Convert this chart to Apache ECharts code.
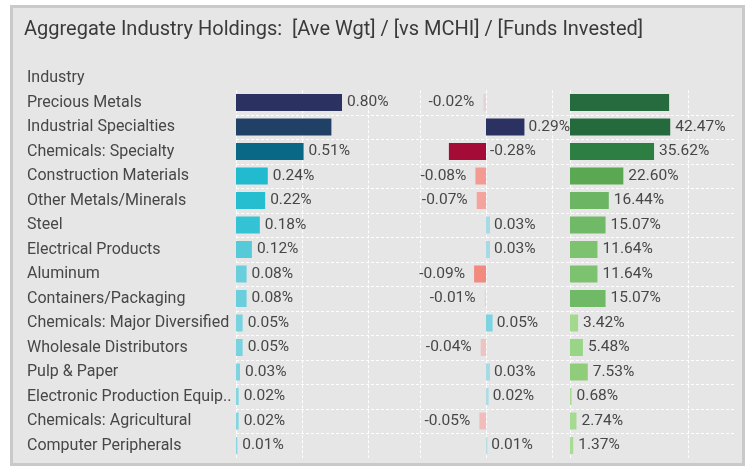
<!DOCTYPE html>
<html>
<head>
<meta charset="utf-8">
<script src="https://cdn.jsdelivr.net/npm/echarts@6/dist/echarts.min.js"></script>
<style>
  html, body { margin: 0; padding: 0; background: #ffffff; }
  #frame {
    position: absolute; left: 10px; top: 5px;
    width: 729px; height: 455px;
    border: 3px solid #c9c9c9; background: #e6e6e6;
  }
  #chart { position: absolute; left: 0; top: 0; width: 753px; height: 470px; }
</style>
</head>
<body>
<div id="frame"></div>
<div id="chart"></div>
<script>
// Industries, top to bottom
const industries = [
  'Precious Metals', 'Industrial Specialties', 'Chemicals: Specialty',
  'Construction Materials', 'Other Metals/Minerals', 'Steel',
  'Electrical Products', 'Aluminum', 'Containers/Packaging',
  'Chemicals: Major Diversified', 'Wholesale Distributors', 'Pulp & Paper',
  'Electronic Production Equip..', 'Chemicals: Agricultural', 'Computer Peripherals'
];

// Average portfolio weight (%)
const aveWgt = [0.80, 0.72, 0.51, 0.24, 0.22, 0.18, 0.12, 0.08, 0.08, 0.05, 0.05, 0.03, 0.02, 0.02, 0.01];
// Active weight versus MCHI (%)
const vsMchi = [-0.02, 0.29, -0.28, -0.08, -0.07, 0.03, 0.03, -0.09, -0.01, 0.05, -0.04, 0.03, 0.02, -0.05, 0.01];
// Share of funds invested in the industry (%)
const fundsInvested = [42.0, 42.47, 35.62, 22.60, 16.44, 15.07, 11.64, 11.64, 15.07, 3.42, 5.48, 7.53, 0.68, 2.74, 1.37];

// Rows whose value label is left out
const unlabeledAveWgt = [1];
const unlabeledFunds = [0];

// Colour ramps: [value, colour] stops, interpolated in RGB
const aveWgtRamp = [[0, '#8ad8e3'], [0.1, '#62cddb'], [0.2, '#28c0d3'], [0.3, '#18b0c6'],
                    [0.5, '#076a86'], [0.7, '#1e4468'], [0.8, '#2b3160']];
const vsMchiRamp = [[-0.28, '#a50b37'], [-0.09, '#f38a80'], [-0.08, '#f39b92'], [-0.07, '#f4a49c'],
                    [-0.05, '#f2bcba'], [-0.02, '#e6d3d6'], [0, '#d8d8de'], [0.01, '#b6dde5'],
                    [0.03, '#a6dae4'], [0.05, '#7dd4e0'], [0.29, '#2b3160']];
const fundsRamp = [[0, '#acdd98'], [3, '#a4da90'], [5.5, '#99d587'], [7.5, '#8fcd7a'],
                   [11.6, '#7cc26f'], [15, '#70b966'], [16.4, '#6bb563'], [22.6, '#5ba853'],
                   [35.6, '#2d7e43'], [42.5, '#246a3d']];

function hexToRgb(h) {
  const n = parseInt(h.slice(1), 16);
  return [(n >> 16) & 255, (n >> 8) & 255, n & 255];
}
function rampColor(stops, v) {
  if (v <= stops[0][0]) return stops[0][1];
  for (let i = 1; i < stops.length; i++) {
    if (v <= stops[i][0]) {
      const [v0, c0] = stops[i - 1], [v1, c1] = stops[i];
      const t = (v - v0) / (v1 - v0);
      const a = hexToRgb(c0), b = hexToRgb(c1);
      const m = a.map((x, k) => Math.round(x + (b[k] - x) * t));
      return 'rgb(' + m.join(',') + ')';
    }
  }
  return stops[stops.length - 1][1];
}

const FONT = 'Roboto, "Noto Sans", sans-serif';
const TEXT = '#474747';
const TOP = 90.25, HEIGHT = 367.5;

const gridLine = { show: true, lineStyle: { color: '#ffffff', type: [3, 2], width: 1 } };

function valueLabel(show, position, distance) {
  return {
    show, position, distance,
    color: TEXT, fontFamily: FONT, fontSize: 15.5,
    formatter: p => p.value[0].toFixed(2) + '%'
  };
}

function barSeries(values, gridIdx, ramp, labelFor) {
  return {
    type: 'bar',
    xAxisIndex: gridIdx, yAxisIndex: gridIdx,
    barWidth: 17,
    silent: true,
    data: values.map((v, i) => ({
      value: [v, industries[i]],
      itemStyle: { color: rampColor(ramp, v) },
      label: labelFor(v, i)
    }))
  };
}

function catAxis(gridIdx, showLabels, showSplit) {
  return {
    type: 'category', gridIndex: gridIdx, data: industries, inverse: true,
    axisLine: { show: false }, axisTick: { show: false },
    axisLabel: showLabels ? {
      show: true, align: 'left', margin: 209,
      color: TEXT, fontFamily: FONT, fontSize: 16
    } : { show: false },
    splitLine: showSplit
      ? Object.assign({ showMinLine: false, showMaxLine: false }, gridLine)
      : { show: false }
  };
}

function valAxis(gridIdx, min, max, interval, showMin) {
  return {
    type: 'value', gridIndex: gridIdx, min, max, interval,
    axisLine: { show: false }, axisTick: { show: false }, axisLabel: { show: false },
    splitLine: Object.assign({ showMinLine: showMin, showMaxLine: false }, gridLine)
  };
}

const chart = echarts.init(document.getElementById('chart'), null, { renderer: 'canvas' });

chart.setOption({
  backgroundColor: 'transparent',
  animation: false,
  title: [
    {
      text: 'Aggregate Industry Holdings:  [Ave Wgt] / [vs MCHI] / [Funds Invested]',
      left: 24, top: 20, padding: 0,
      textStyle: { color: '#3a3a3a', fontFamily: FONT, fontSize: 20, fontWeight: 'normal' }
    },
    {
      text: 'Industry',
      left: 27, top: 69.5, padding: 0,
      textStyle: { color: TEXT, fontFamily: FONT, fontSize: 16, fontWeight: 'normal' }
    }
  ],
  grid: [
    { left: 236, top: TOP, width: 1.3 * 132.5, height: HEIGHT },               // Ave Wgt
    { left: 486 - 0.5 * 132.5, top: TOP, width: 1.05 * 132.5, height: HEIGHT }, // vs MCHI
    { left: 570, top: TOP, width: 70 * 2.36, height: HEIGHT },                 // Funds Invested
    { left: 236, top: TOP, width: 499, height: HEIGHT }                        // row separators
  ],
  xAxis: [
    valAxis(0, 0, 1.3, 0.5, true),
    valAxis(1, -0.5, 0.55, 0.5, true),
    valAxis(2, 0, 70, 50, true),
    { type: 'value', gridIndex: 3, min: 0, max: 1, show: false }
  ],
  yAxis: [
    catAxis(0, true, false),
    catAxis(1, false, false),
    catAxis(2, false, false),
    catAxis(3, false, true)
  ],
  series: [
    barSeries(aveWgt, 0, aveWgtRamp,
      (v, i) => valueLabel(!unlabeledAveWgt.includes(i), 'right', 5)),
    // Long negative bars leave no room on their left, so their labels sit past zero
    barSeries(vsMchi, 1, vsMchiRamp,
      v => (v >= 0 || v < -0.2) ? valueLabel(true, 'right', 4) : valueLabel(true, 'left', 9)),
    barSeries(fundsInvested, 2, fundsRamp,
      (v, i) => valueLabel(!unlabeledFunds.includes(i), 'right', 5))
  ]
});
</script>
</body>
</html>
